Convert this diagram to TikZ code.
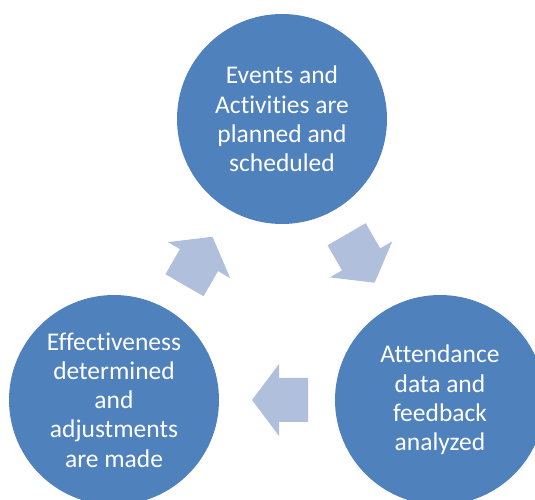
\documentclass[tikz,border=0pt]{standalone}
\usepackage{fontspec}
\setmainfont{Carlito}[Ligatures=NoCommon]
\definecolor{circblue}{RGB}{79,129,189}
\definecolor{arrblue}{RGB}{176,192,220}
\begin{document}
\begin{tikzpicture}[x=1pt,y=1pt,
  stage/.style={circle, fill=circblue, minimum size=210pt, inner sep=0pt, align=center, text=white, font=\fontsize{25.5}{29.2}\selectfont},
  cyclearrow/.style={fill=arrblue}]
\useasboundingbox (0,0) rectangle (535,500);
\clip (0,0) rectangle (535,500);
\node[stage] (plan) at (282,381) {Events and\\Activities are\\planned and\\scheduled};
\node[stage] (analyze) at (440,100) {Attendance\\data and\\feedback\\analyzed};
\node[stage] (adjust) at (114,100) {Effectiveness\\determined\\and\\adjustments\\are made};
\foreach \cx/\cy/\ang in {198.5/239/60, 360.6/241.5/-60, 280/100/180}
  \fill[cyclearrow, shift={(\cx,\cy)}, rotate=\ang] (-28,-22) -- (1,-22) -- (1,-36) -- (28,0) -- (1,36) -- (1,22) -- (-28,22) -- cycle;
\end{tikzpicture}
\end{document}
